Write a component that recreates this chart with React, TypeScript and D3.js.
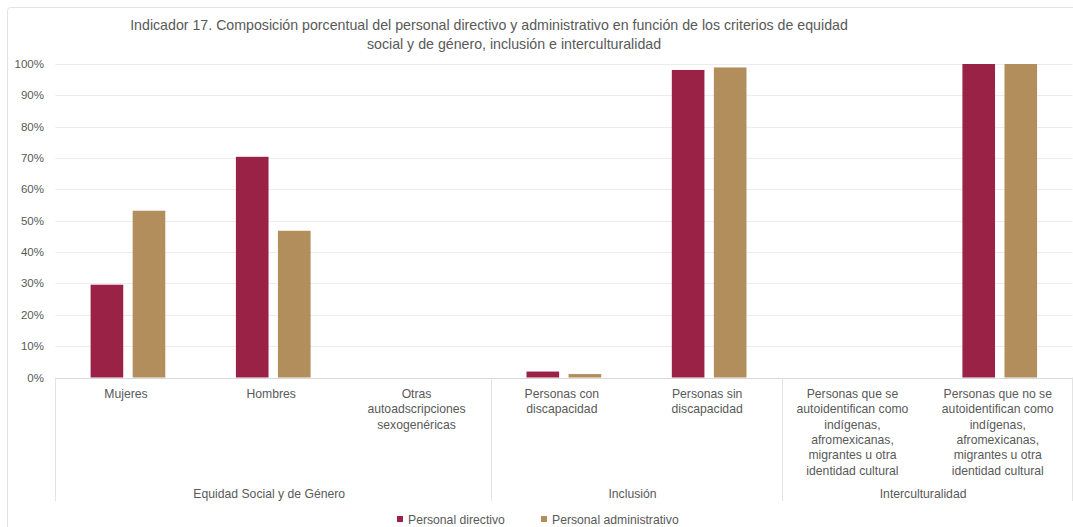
import React from "react";
import * as d3 from "d3";

const titleLines = [
  "Indicador 17. Composición porcentual del personal directivo y administrativo en función de los criterios de equidad",
  "social y de género, inclusión e interculturalidad",
];

const categories = [
  "Mujeres",
  "Hombres",
  "Otras autoadscripciones sexogenéricas",
  "Personas con discapacidad",
  "Personas sin discapacidad",
  "Personas que se autoidentifican como indígenas, afromexicanas, migrantes u otra identidad cultural",
  "Personas que no se autoidentifican como indígenas, afromexicanas, migrantes u otra identidad cultural",
];

const categoryLabelLines = [
  ["Mujeres"],
  ["Hombres"],
  ["Otras", "autoadscripciones", "sexogenéricas"],
  ["Personas con", "discapacidad"],
  ["Personas sin", "discapacidad"],
  ["Personas que se", "autoidentifican como", "indígenas,", "afromexicanas,", "migrantes u otra", "identidad cultural"],
  ["Personas que no se", "autoidentifican como", "indígenas,", "afromexicanas,", "migrantes u otra", "identidad cultural"],
];

const groups = ["Equidad Social y de Género", "Inclusión", "Interculturalidad"];
const groupSizes = [3, 2, 2];

const seriesNames = ["Personal directivo", "Personal administrativo"];
const directivo = [29.6, 70.4, 0, 1.9, 98.1, 0, 100];
const administrativo = [53.2, 46.8, 0, 1.1, 98.9, 0, 100];

const yTicks = [0, 10, 20, 30, 40, 50, 60, 70, 80, 90, 100];

const COLORS = ["#9B2247", "#B38E5D"];
const TEXT = "#595959";
const FONT = "'Liberation Sans', Arial, sans-serif";

export default function App() {
  const W = 1073;
  const H = 527;
  const left = 55.3;
  const right = 1072.4;
  const y = d3.scaleLinear().domain([0, 100]).range([377.5, 64]);
  const x0 = d3.scaleBand<string>().domain(categories).range([left, right]).padding(0);
  const bw = x0.bandwidth();
  const x1 = d3
    .scaleBand<string>()
    .domain(seriesNames)
    .range([bw * 0.243, bw * 0.757])
    .paddingInner(0.224);
  const values = [directivo, administrativo];

  const bounds: number[] = [];
  let acc = 0;
  bounds.push(x0(categories[0])!);
  groupSizes.forEach((s) => {
    acc += s;
    const c = categories[acc - 1];
    bounds.push(x0(c)! + bw);
  });

  return (
    <svg
      width={W}
      height={H}
      style={{ position: "absolute", left: 0, top: 0, fontFamily: FONT }}
    >
      <rect x={0} y={0} width={W} height={H} fill="#ffffff" />
      <rect
        x={7.5}
        y={7.5}
        width={1090}
        height={560}
        rx={3}
        fill="none"
        stroke="#e3e3e3"
        strokeWidth={1}
      />
      {titleLines.map((t, i) => (
        <text
          key={i}
          x={i === 0 ? 489 : 514}
          y={30 + i * 19}
          textAnchor="middle"
          fontSize={14.2}
          fill={TEXT}
        >
          {t}
        </text>
      ))}
      {yTicks.map((t) => (
        <g key={t}>
          <line
            x1={left}
            x2={right}
            y1={Math.round(y(t)) + 0.5}
            y2={Math.round(y(t)) + 0.5}
            stroke={t === 0 ? "#d9d9d9" : "#ececec"}
            strokeWidth={1}
          />
          <text
            x={44}
            y={y(t) + 4}
            textAnchor="end"
            fontSize={11.5}
            fill={TEXT}
          >
            {t}%
          </text>
        </g>
      ))}
      {categories.map((c, ci) => (
        <g key={c} transform={`translate(${x0(c)},0)`}>
          {seriesNames.map((s, si) => {
            const v = values[si][ci];
            if (!v) return null;
            return (
              <rect
                key={s}
                x={x1(s)}
                y={y(v)}
                width={x1.bandwidth()}
                height={y(0) - y(v)}
                fill={COLORS[si]}
              />
            );
          })}
        </g>
      ))}
      {bounds.map((b, i) => (
        <line
          key={i}
          x1={Math.round(b) + 0.5}
          x2={Math.round(b) + 0.5}
          y1={377.5}
          y2={501}
          stroke="#e3e3e3"
          strokeWidth={1}
        />
      ))}
      {categories.map((c, ci) => (
        <text
          key={c}
          x={x0(c)! + bw / 2 - 2}
          y={398}
          textAnchor="middle"
          fontSize={12.2}
          fill={TEXT}
        >
          {categoryLabelLines[ci].map((l, li) => (
            <tspan key={li} x={x0(c)! + bw / 2 - 2} dy={li === 0 ? 0 : 15.3}>
              {l}
            </tspan>
          ))}
        </text>
      ))}
      {groups.map((g, gi) => (
        <text
          key={g}
          x={(bounds[gi] + bounds[gi + 1]) / 2 - 4}
          y={498}
          textAnchor="middle"
          fontSize={12.2}
          fill={TEXT}
        >
          {g}
        </text>
      ))}
      {seriesNames.map((s, si) => {
        const lx = si === 0 ? 397 : 541;
        return (
          <g key={s}>
            <rect x={lx} y={516} width={6} height={6} fill={COLORS[si]} />
            <text x={lx + 11} y={523.5} fontSize={12.2} fill={TEXT}>
              {s}
            </text>
          </g>
        );
      })}
    </svg>
  );
}
